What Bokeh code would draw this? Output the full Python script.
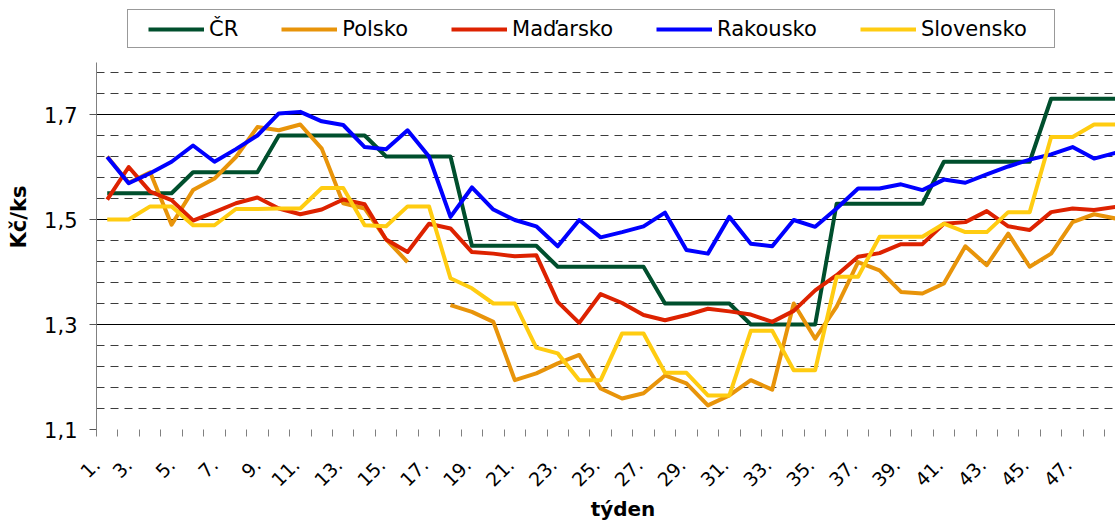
import math
import numpy as np
from bokeh.plotting import figure
from bokeh.models import FixedTicker, Legend, LegendItem, Range1d, ColumnDataSource
from bokeh.embed import file_html
from bokeh.resources import INLINE

# ---------------- data ----------------
weeks = list(range(1, 49))

cr = [1.55, 1.55, 1.55, 1.55, 1.59, 1.59, 1.59, 1.59, 1.66, 1.66, 1.66, 1.66,
      1.66, 1.62, 1.62, 1.62, 1.62, 1.45, 1.45, 1.45, 1.45, 1.41, 1.41, 1.41,
      1.41, 1.41, 1.34, 1.34, 1.34, 1.34, 1.30, 1.30, 1.30, 1.30, 1.53, 1.53,
      1.53, 1.53, 1.53, 1.61, 1.61, 1.61, 1.61, 1.61, 1.73, 1.73, 1.73, 1.73]

polsko = [1.62, 1.57, 1.59, 1.49, 1.556, 1.578, 1.619, 1.676, 1.67, 1.681, 1.635, 1.531,
          1.521, 1.462, 1.419, np.nan, 1.337, 1.324, 1.305, 1.194, 1.207, 1.226, 1.242, 1.178,
          1.159, 1.169, 1.203, 1.188, 1.146, 1.165, 1.194, 1.176, 1.34, 1.273, 1.334, 1.419,
          1.403, 1.362, 1.359, 1.378, 1.449, 1.413, 1.473, 1.41, 1.435, 1.495, 1.51, 1.502]

madarsko = [1.538, 1.60, 1.553, 1.537, 1.498, 1.514, 1.531, 1.542, 1.521, 1.51, 1.519, 1.538,
            1.529, 1.462, 1.438, 1.492, 1.483, 1.438, 1.435, 1.43, 1.432, 1.343, 1.303, 1.358,
            1.341, 1.318, 1.308, 1.318, 1.33, 1.325, 1.319, 1.305, 1.326, 1.365, 1.394, 1.429,
            1.436, 1.453, 1.453, 1.492, 1.495, 1.516, 1.487, 1.48, 1.514, 1.521, 1.518, 1.524]

rakousko = [1.619, 1.569, 1.588, 1.61, 1.641, 1.61, 1.634, 1.66, 1.702, 1.705, 1.687, 1.68,
            1.638, 1.634, 1.67, 1.62, 1.505, 1.561, 1.519, 1.499, 1.487, 1.449, 1.499, 1.466,
            1.476, 1.487, 1.513, 1.442, 1.435, 1.505, 1.454, 1.449, 1.499, 1.486, 1.521, 1.559,
            1.559, 1.567, 1.556, 1.576, 1.57, 1.586, 1.601, 1.614, 1.624, 1.638, 1.616, 1.627]

slovensko = [1.50, 1.50, 1.525, 1.525, 1.489, 1.489, 1.52, 1.52, 1.521, 1.521, 1.56, 1.56,
             1.489, 1.487, 1.525, 1.525, 1.388, 1.369, 1.34, 1.34, 1.256, 1.245, 1.194, 1.194,
             1.283, 1.283, 1.208, 1.208, 1.165, 1.165, 1.288, 1.288, 1.213, 1.213, 1.391, 1.391,
             1.467, 1.467, 1.467, 1.492, 1.476, 1.476, 1.514, 1.514, 1.657, 1.657, 1.681, 1.681]

series_names = ["ČR", "Polsko", "Maďarsko", "Rakousko", "Slovensko"]
series_colors = ["#004F2D", "#E8940A", "#DD2200", "#0000FF", "#FFCC11"]

x_tick_weeks = list(range(1, 48, 2))
x_tick_labels = [f"{w}." for w in x_tick_weeks]
y_ticks = [1.1, 1.3, 1.5, 1.7]
y_tick_labels = ["1,1", "1,3", "1,5", "1,7"]
y_axis_span = (1.1, 1.8)

FONT = "DejaVu Sans"

# ---------------- figure ----------------
# frame reaches up to the top of the canvas so that the legend (drawn inside it) is not clipped;
# the y axis itself is bounded to 1.1 .. 1.8 as in the original
TOP, BOTTOM = 4, 94
frame_h = 523 - TOP - BOTTOM
p = figure(width=1115, height=523, output_backend="svg", toolbar_location=None,
           x_range=Range1d(0.5, 48.0),
           y_range=Range1d(y_axis_span[0], y_axis_span[0] + frame_h / 525.0))
p.min_border_left = 96
p.min_border_right = 0
p.min_border_top = TOP
p.min_border_bottom = BOTTOM
p.outline_line_color = None
p.background_fill_color = "white"
p.border_fill_color = "white"

# grid
y_minor = [round(1.1 + 0.04 * k, 2) for k in range(1, 18) if k % 5 != 0]
p.xgrid.visible = False
p.ygrid.ticker = FixedTicker(ticks=y_ticks, minor_ticks=y_minor)
p.ygrid.grid_line_color = "black"
p.ygrid.grid_line_width = 1
p.ygrid.minor_grid_line_color = "#3c3c3c"
p.ygrid.minor_grid_line_dash = "8 6"
p.ygrid.minor_grid_line_width = 1

# y axis
p.yaxis.bounds = y_axis_span
p.yaxis.ticker = FixedTicker(ticks=y_ticks)
p.yaxis.major_label_overrides = {t: l for t, l in zip(y_ticks, y_tick_labels)}
p.yaxis.axis_label = "Kč/ks"
p.yaxis.axis_label_text_font = FONT
p.yaxis.axis_label_text_font_style = "bold"
p.yaxis.axis_label_text_font_size = "21px"
p.yaxis.axis_label_text_color = "black"
p.yaxis.axis_label_standoff = 10
p.yaxis.major_label_text_font = FONT
p.yaxis.major_label_text_font_size = "21px"
p.yaxis.major_label_text_color = "black"
p.yaxis.major_label_standoff = 12
p.yaxis.major_tick_out = 7
p.yaxis.major_tick_in = 0
p.yaxis.minor_tick_out = 0
p.yaxis.minor_tick_in = 0
p.yaxis.axis_line_color = "#808080"
p.yaxis.major_tick_line_color = "#555555"

# x axis: category boundary ticks + rotated labels whose end sits left of the category (Excel style)
x_minor = [w - 0.5 for w in weeks] + [weeks[-1] + 0.5]
label_pos = [w - (0.5 if w == 1 else (1.0 if w < 10 else 1.2)) for w in x_tick_weeks]
xa = p.xaxis[0]
xa.bounds = (0.5, 47.52)
xa.ticker = FixedTicker(ticks=label_pos, minor_ticks=x_minor)
xa.major_label_overrides = {t: l for t, l in zip(label_pos, x_tick_labels)}
xa.major_label_orientation = math.pi / 4
xa.major_label_text_font = FONT
xa.major_label_text_font_size = "19px"
xa.major_label_text_color = "black"
xa.major_label_standoff = 25
xa.major_tick_out = 0
xa.major_tick_in = 0
xa.minor_tick_out = 7
xa.minor_tick_in = 0
xa.minor_tick_line_color = "#808080"
xa.axis_line_color = None
xa.axis_label = "\u2003\u2002\u2009týden"
xa.axis_label_text_font = FONT
xa.axis_label_text_font_style = "bold"
xa.axis_label_text_font_size = "20px"
xa.axis_label_text_color = "black"
xa.axis_label_standoff = 1

# lines
renderers = []
for name, vals, col in zip(series_names, [cr, polsko, madarsko, rakousko, slovensko], series_colors):
    src = ColumnDataSource(dict(x=np.array(weeks, dtype=float), y=np.array(vals, dtype=float)))
    r = p.line("x", "y", source=src, line_color=col, line_width=4, line_join="round")
    renderers.append(r)

# legend frame (invisible glyph, only the box is shown)
dummy = p.line(x=[], y=[], line_alpha=0)
box_legend = Legend(items=[LegendItem(label=" ", renderers=[dummy])],
                    location=(30.7, 381), orientation="horizontal",
                    padding=1, margin=0, spacing=0,
                    glyph_width=924, glyph_height=35, label_standoff=0,
                    label_width=0, label_height=0, label_text_font_size="1px",
                    border_line_color="#333333", border_line_width=1,
                    background_fill_color="white", background_fill_alpha=1)
p.add_layout(box_legend, "center")

item_legend = Legend(items=[LegendItem(label=n, renderers=[r]) for n, r in zip(series_names, renderers)],
                     location=(52, 384.7), orientation="horizontal",
                     padding=0, margin=0, spacing=43,
                     glyph_width=56, glyph_height=30, label_standoff=5,
                     label_width=0, label_height=0,
                     label_text_font=FONT, label_text_font_size="21px", label_text_color="black",
                     border_line_alpha=0, background_fill_alpha=0)
p.add_layout(item_legend, "center")

open("out.html", "w").write(file_html(p, INLINE))
